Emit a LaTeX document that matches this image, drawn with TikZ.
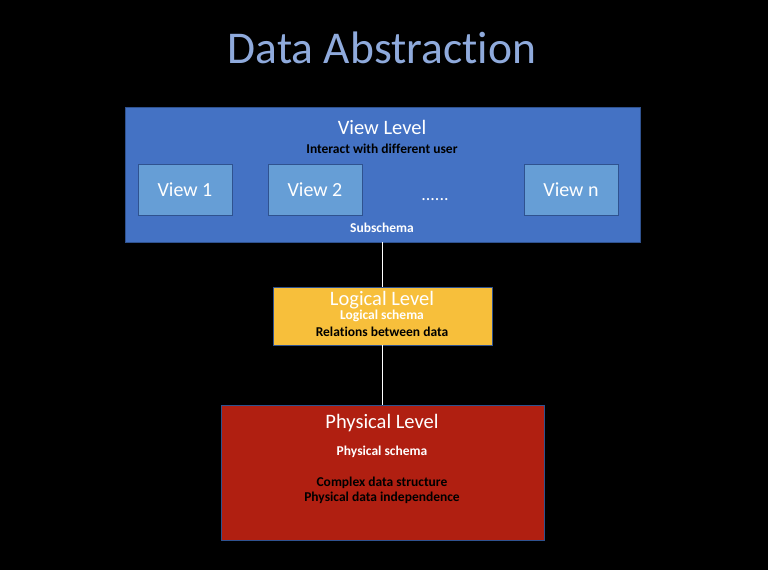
\documentclass[tikz,border=0pt]{standalone}
\usepackage{fontspec}
\setmainfont{Carlito}[Ligatures=NoCommon]
\usetikzlibrary{positioning, backgrounds}

\definecolor{titleblue}{HTML}{8FAADC}
\definecolor{viewblue}{HTML}{4472C4}
\definecolor{subblue}{HTML}{669ED6}
\definecolor{edgeblue}{HTML}{2F528F}
\definecolor{logicgold}{HTML}{F7BF3B}
\definecolor{physred}{HTML}{B01F11}

\begin{document}
\begin{tikzpicture}[x=1pt,y=-1pt,every node/.style={inner sep=0,outer sep=0},
    levelbox/.style={draw=edgeblue,line width=0.8pt,anchor=north west},
    viewbox/.style={levelbox,fill=subblue,minimum width=94pt,minimum height=51pt,
      text=white,font=\fontsize{20}{22}\selectfont},
    big/.style={anchor=base,text=white,font=\fontsize{20.5}{24}\selectfont},
    small/.style={anchor=base,font=\bfseries\fontsize{13.5}{16}\selectfont}]
      \fill[black](0,0)rectangle(768,570);
      \useasboundingbox(0,0)rectangle(768,570);

      \node(title)[anchor=base,text=titleblue,font=\fontsize{45.5}{50}\selectfont] at (382,63){Data Abstraction};

      % view level
      \node(view)[levelbox,fill=viewblue,minimum width=515pt,minimum height=135pt] at (125,107){};
      \node(viewt)[big] at (382,134){View Level};
      \node(viewsub)[small] at (382,153){Interact with different user};
      \node(v1)[viewbox] at (138,164){View 1};
      \node(v2)[viewbox] at (268,164){View 2};
      \node(vn)[viewbox] at (524,164){View n};
      \node(dots)[anchor=base,text=white,font=\fontsize{18}{20}\selectfont] at (435,200){......};
      \node(subschema)[small,text=white] at (382,232){Subschema};

      % logical level
      \node(logic)[levelbox,fill=logicgold,minimum width=219pt,minimum height=58pt] at (273,287){};
      \node(logict)[big] at (382,305){Logical Level};
      \node(logics)[small,text=white] at (382,319){Logical schema};
      \node(logicr)[small] at (382,336){Relations between data};

      % physical level
      \node(phys)[levelbox,fill=physred,minimum width=323pt,minimum height=135pt] at (221,405){};
      \node(physt)[big] at (382,428){Physical Level};
      \node(physs)[small,text=white] at (382,455){Physical schema};
      \node(physc)[small] at (382,486){Complex data structure};
      \node(physi)[small,below=15pt of physc.base,anchor=base]{Physical data independence};

      \draw[white,line width=1.6pt](view.south)--(logic.north);
      \draw[white,line width=1.6pt](logic.south)--(phys.north);
\end{tikzpicture}
\end{document}
